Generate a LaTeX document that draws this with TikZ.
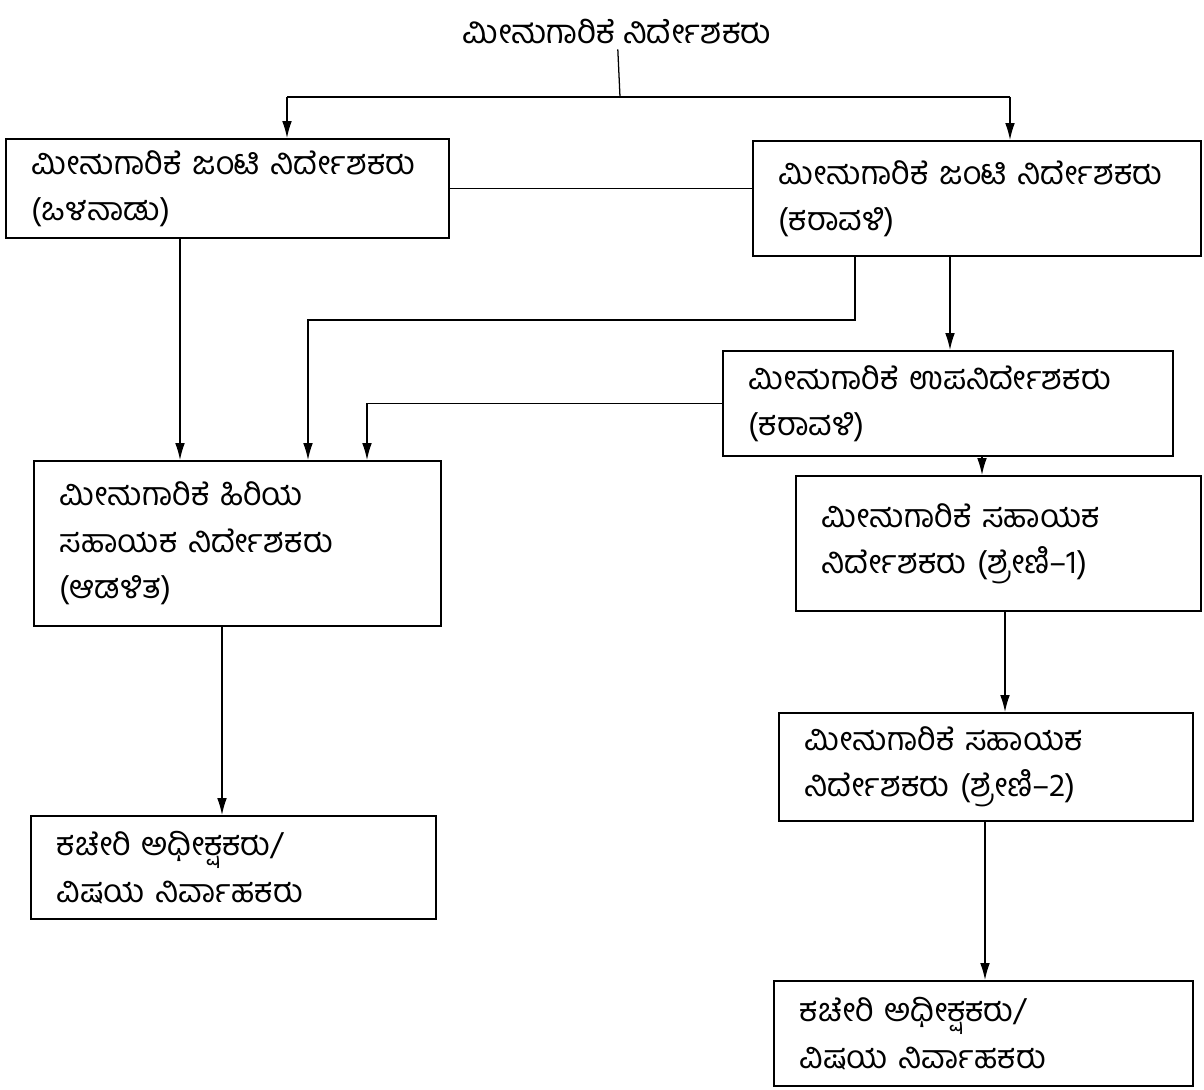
\documentclass[tikz,border=0pt]{standalone}
\usepackage{fontspec}
\newfontfamily\kn[Script=Kannada]{Hind Mysuru}
\usetikzlibrary{arrows.meta}

\begin{document}
\begin{tikzpicture}[x=0.025cm,y=-0.025cm,
  post/.style={draw, line width=1.3pt, anchor=north west, align=left, inner xsep=0.65cm,
    font=\kn\fontsize{23}{33}\selectfont},
  link/.style={line width=0.9pt},
  arr/.style={link, -{Latex[length=0.42cm,width=0.24cm]}}]
\useasboundingbox (0,0) rectangle (1204,1090);

% head of department
\node[font=\kn\fontsize{23.5}{33}\selectfont] (dir) at (617,32) {ಮೀನುಗಾರಿಕೆ ನಿರ್ದೇಶಕರು};

% joint directors
\node[post, text width=9.78cm, minimum height=2.48cm] (jdin) at (5,138)
  {ಮೀನುಗಾರಿಕೆ ಜಂಟಿ ನಿರ್ದೇಶಕರು\\(ಒಳನಾಡು)};
\node[post, text width=9.9cm, minimum height=2.88cm] (jdco) at (752,140)
  {ಮೀನುಗಾರಿಕೆ ಜಂಟಿ ನಿರ್ದೇಶಕರು\\(ಕರಾವಳಿ)};

% deputy / senior assistant
\node[post, text width=9.95cm, minimum height=2.63cm] (ddco) at (722,350)
  {ಮೀನುಗಾರಿಕೆ ಉಪನಿರ್ದೇಶಕರು\\(ಕರಾವಳಿ)};
\node[post, text width=8.88cm, minimum height=4.13cm] (sad) at (33,460)
  {ಮೀನುಗಾರಿಕೆ ಹಿರಿಯ\\ಸಹಾಯಕ ನಿರ್ದೇಶಕರು\\(ಆಡಳಿತ)};

% assistant directors
\node[post, text width=8.83cm, minimum height=3.38cm] (adone) at (795,475)
  {ಮೀನುಗಾರಿಕೆ ಸಹಾಯಕ\\ನಿರ್ದೇಶಕರು (ಶ್ರೇಣಿ–1)};
\node[post, text width=9.05cm, minimum height=2.7cm] (adtwo) at (778,712)
  {ಮೀನುಗಾರಿಕೆ ಸಹಾಯಕ\\ನಿರ್ದೇಶಕರು (ಶ್ರೇಣಿ–2)};

% office staff
\node[post, text width=8.83cm, minimum height=2.58cm] (offl) at (30,815)
  {ಕಚೇರಿ ಅಧೀಕ್ಷಕರು/\\ವಿಷಯ ನಿರ್ವಾಹಕರು};
\node[post, text width=9.18cm, minimum height=2.63cm] (offr) at (773,980)
  {ಕಚೇರಿ ಅಧೀಕ್ಷಕರು/\\ವಿಷಯ ನಿರ್ವಾಹಕರು};

% guide points
\coordinate (hub) at (620,97);
\coordinate (jl) at (287,97);
\coordinate (jr) at (1010,97);
\coordinate (kink) at (855,320);
\coordinate (kinkc) at (308,320);
\coordinate (ga) at (180,0);
\coordinate (gb) at (950,0);
\coordinate (gc) at (367,0);
\coordinate (gd) at (982,0);
\coordinate (ge) at (1005,0);
\coordinate (gf) at (222,0);
\coordinate (gg) at (985,0);

% connectors
\draw[link] (dir) -- (hub);
\draw[link] (jl) -- (jr);
\draw[arr] (jl) -- (jl |- jdin.north);
\draw[arr] (jr) -- (jr |- jdco.north);
\draw[link] (jdin.east) -- (jdin.east -| jdco.west);
\draw[arr] (jdin.south -| ga) -- (sad.north -| ga);
\draw[arr] (jdco.south -| kink) |- (kinkc) -- (kinkc |- sad.north);
\draw[arr] (jdco.south -| gb) -- (ddco.north -| gb);
\draw[arr] (ddco.west) -| (sad.north -| gc);
\draw[arr] (ddco.south -| gd) -- (adone.north -| gd);
\draw[arr] (adone.south -| ge) -- (adtwo.north -| ge);
\draw[arr] (sad.south -| gf) -- (offl.north -| gf);
\draw[arr] (adtwo.south -| gg) -- (offr.north -| gg);
\end{tikzpicture}
\end{document}
